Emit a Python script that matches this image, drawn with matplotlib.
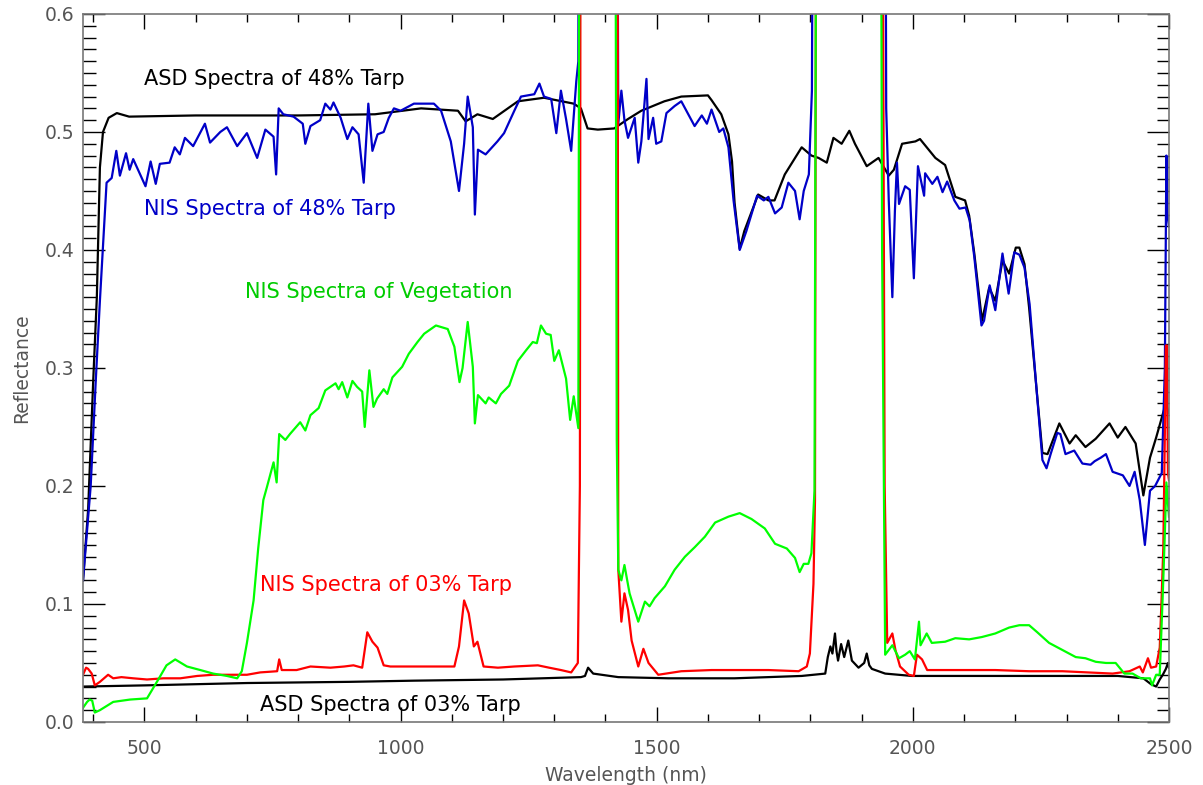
import matplotlib
matplotlib.use("Agg")
import matplotlib.pyplot as plt
import numpy as np
from matplotlib.ticker import MultipleLocator, FormatStrFormatter

# (wavelength nm, reflectance); 1.0 = off-scale water bands
asd_48 = [(380, 0.12), (390, 0.18), (400, 0.29), (407, 0.36), (413, 0.47), (419, 0.50),
          (430, 0.512), (446, 0.516), (470, 0.513), (600, 0.514), (800, 0.514), (950, 0.515),
          (1040, 0.52), (1112, 0.518), (1127, 0.509), (1150, 0.515), (1180, 0.511), (1229, 0.526),
          (1280, 0.529), (1338, 0.524), (1352, 0.520), (1365, 0.503), (1385, 0.502), (1417, 0.503),
          (1444, 0.511), (1470, 0.518), (1515, 0.526), (1548, 0.530), (1600, 0.531), (1607, 0.527),
          (1626, 0.515), (1640, 0.498), (1647, 0.475), (1652, 0.44), (1662, 0.401), (1671, 0.416),
          (1698, 0.447), (1718, 0.442), (1730, 0.442), (1750, 0.464), (1783, 0.487), (1802, 0.48),
          (1816, 0.478), (1832, 0.474), (1845, 0.495), (1861, 0.49), (1876, 0.501), (1887, 0.49),
          (1910, 0.471), (1933, 0.478), (1953, 0.463), (1963, 0.468), (1979, 0.49), (2005, 0.492),
          (2014, 0.494), (2044, 0.478), (2063, 0.472), (2083, 0.445), (2102, 0.442), (2110, 0.429),
          (2120, 0.397), (2135, 0.34), (2149, 0.368), (2161, 0.357), (2175, 0.391), (2188, 0.38),
          (2201, 0.402), (2208, 0.402), (2218, 0.388), (2227, 0.351), (2243, 0.275), (2253, 0.228),
          (2263, 0.227), (2286, 0.253), (2306, 0.236), (2318, 0.243), (2337, 0.233), (2357, 0.24),
          (2384, 0.253), (2400, 0.241), (2415, 0.25), (2435, 0.236), (2450, 0.192), (2463, 0.224),
          (2475, 0.241), (2488, 0.261), (2494, 0.27), (2500, 0.262)]

nis_48 = [(380, 0.12), (395, 0.2), (405, 0.29), (413, 0.357), (426, 0.457), (436, 0.461),
          (445, 0.484), (452, 0.463), (464, 0.482), (471, 0.468), (478, 0.477), (502, 0.454),
          (512, 0.475), (522, 0.456), (530, 0.473), (549, 0.474), (559, 0.487), (569, 0.481),
          (579, 0.495), (595, 0.488), (618, 0.507), (628, 0.491), (648, 0.50), (661, 0.504),
          (681, 0.488), (700, 0.499), (720, 0.478), (736, 0.502), (752, 0.496), (757, 0.464),
          (762, 0.52), (771, 0.515), (791, 0.513), (809, 0.507), (814, 0.49), (824, 0.505),
          (843, 0.51), (853, 0.524), (863, 0.519), (869, 0.525), (883, 0.512), (896, 0.494),
          (906, 0.504), (918, 0.498), (928, 0.457), (937, 0.524), (945, 0.484), (955, 0.498),
          (967, 0.50), (977, 0.512), (987, 0.52), (1000, 0.518), (1026, 0.524), (1065, 0.524),
          (1079, 0.518), (1098, 0.492), (1114, 0.45), (1124, 0.49), (1131, 0.53), (1141, 0.504),
          (1145, 0.43), (1151, 0.485), (1166, 0.481), (1189, 0.492), (1202, 0.499), (1222, 0.518),
          (1235, 0.53), (1261, 0.532), (1271, 0.541), (1280, 0.53), (1294, 0.528), (1304, 0.499),
          (1313, 0.535), (1323, 0.511), (1333, 0.484), (1343, 0.543), (1347, 0.56), (1349, 1.0),
          (1421, 1.0), (1425, 0.507), (1431, 0.535), (1437, 0.51), (1444, 0.495), (1457, 0.512),
          (1464, 0.474), (1470, 0.492), (1480, 0.545), (1484, 0.494), (1493, 0.512), (1499, 0.49),
          (1509, 0.492), (1519, 0.516), (1535, 0.522), (1548, 0.526), (1574, 0.505), (1588, 0.514),
          (1598, 0.507), (1607, 0.519), (1622, 0.50), (1630, 0.503), (1640, 0.487), (1650, 0.442),
          (1662, 0.40), (1675, 0.416), (1696, 0.446), (1709, 0.442), (1718, 0.445), (1731, 0.431),
          (1744, 0.436), (1757, 0.457), (1770, 0.45), (1779, 0.426), (1787, 0.45), (1797, 0.464),
          (1803, 0.535), (1807, 1.0), (1945, 1.0), (1948, 0.52), (1953, 0.442), (1960, 0.36),
          (1965, 0.433), (1969, 0.474), (1973, 0.439), (1985, 0.454), (1994, 0.451), (2002, 0.376),
          (2010, 0.471), (2022, 0.446), (2024, 0.465), (2038, 0.456), (2048, 0.462), (2058, 0.449),
          (2067, 0.458), (2081, 0.442), (2091, 0.435), (2103, 0.436), (2111, 0.425), (2120, 0.394),
          (2134, 0.336), (2139, 0.34), (2150, 0.37), (2161, 0.349), (2175, 0.397), (2187, 0.363),
          (2198, 0.398), (2208, 0.396), (2218, 0.385), (2228, 0.354), (2243, 0.274), (2253, 0.222),
          (2261, 0.215), (2269, 0.227), (2282, 0.245), (2288, 0.244), (2298, 0.227), (2315, 0.23),
          (2331, 0.219), (2347, 0.218), (2355, 0.221), (2367, 0.224), (2377, 0.227), (2390, 0.212),
          (2410, 0.209), (2423, 0.2), (2433, 0.212), (2443, 0.188), (2453, 0.15), (2463, 0.196),
          (2473, 0.2), (2486, 0.211), (2492, 0.30), (2495, 0.48), (2497, 0.43), (2500, 0.42)]

nis_veg = [(380, 0.012), (388, 0.017), (393, 0.019), (398, 0.018), (403, 0.008), (413, 0.01),
           (439, 0.017), (472, 0.019), (505, 0.02), (527, 0.036), (543, 0.048), (560, 0.053),
           (583, 0.047), (609, 0.044), (634, 0.041), (661, 0.039), (681, 0.037), (690, 0.043),
           (700, 0.067), (713, 0.103), (722, 0.147), (732, 0.188), (739, 0.199), (752, 0.22),
           (758, 0.203), (763, 0.244), (775, 0.239), (784, 0.244), (804, 0.254), (814, 0.247),
           (824, 0.26), (840, 0.266), (853, 0.281), (873, 0.287), (879, 0.282), (886, 0.288),
           (896, 0.275), (906, 0.289), (915, 0.284), (925, 0.28), (930, 0.25), (939, 0.298),
           (947, 0.267), (954, 0.274), (967, 0.282), (974, 0.278), (984, 0.292), (1003, 0.301),
           (1016, 0.312), (1033, 0.322), (1046, 0.329), (1069, 0.336), (1092, 0.333), (1105, 0.318),
           (1115, 0.288), (1121, 0.30), (1131, 0.339), (1141, 0.301), (1145, 0.253), (1151, 0.277),
           (1166, 0.27), (1172, 0.275), (1186, 0.27), (1196, 0.278), (1212, 0.285), (1229, 0.306),
           (1245, 0.315), (1258, 0.322), (1266, 0.321), (1274, 0.336), (1284, 0.329), (1293, 0.328),
           (1300, 0.306), (1309, 0.315), (1323, 0.291), (1331, 0.256), (1338, 0.276), (1347, 0.249),
           (1350, 1.0), (1418, 1.0), (1422, 0.239), (1425, 0.129), (1431, 0.12), (1437, 0.133),
           (1447, 0.109), (1464, 0.085), (1477, 0.102), (1486, 0.098), (1496, 0.105), (1516, 0.115),
           (1535, 0.129), (1555, 0.14), (1574, 0.148), (1594, 0.157), (1614, 0.169), (1640, 0.174),
           (1662, 0.177), (1685, 0.172), (1711, 0.164), (1731, 0.151), (1754, 0.147), (1770, 0.139),
           (1779, 0.127), (1787, 0.134), (1796, 0.134), (1802, 0.143), (1808, 0.196), (1813, 1.0),
           (1936, 1.0), (1940, 0.4), (1946, 0.057), (1960, 0.065), (1973, 0.054), (1985, 0.057),
           (1994, 0.06), (2004, 0.053), (2012, 0.085), (2015, 0.065), (2027, 0.075), (2037, 0.067),
           (2063, 0.068), (2083, 0.071), (2110, 0.07), (2135, 0.072), (2161, 0.075), (2188, 0.08),
           (2208, 0.082), (2227, 0.082), (2243, 0.076), (2266, 0.067), (2292, 0.061), (2318, 0.055),
           (2337, 0.054), (2357, 0.051), (2377, 0.05), (2396, 0.05), (2413, 0.041), (2429, 0.041),
           (2445, 0.037), (2463, 0.037), (2467, 0.031), (2475, 0.04), (2482, 0.04), (2488, 0.109),
           (2492, 0.16), (2495, 0.203), (2500, 0.174)]

nis_03 = [(380, 0.04), (386, 0.046), (390, 0.045), (397, 0.041), (403, 0.031), (413, 0.034),
          (429, 0.04), (439, 0.037), (455, 0.038), (478, 0.037), (505, 0.036), (537, 0.037),
          (570, 0.037), (603, 0.039), (634, 0.04), (667, 0.04), (700, 0.04), (726, 0.042),
          (759, 0.043), (763, 0.053), (768, 0.044), (797, 0.044), (824, 0.047), (863, 0.046),
          (890, 0.047), (908, 0.048), (925, 0.046), (935, 0.076), (945, 0.068), (955, 0.063),
          (967, 0.048), (980, 0.047), (1026, 0.047), (1079, 0.047), (1105, 0.047), (1114, 0.064),
          (1124, 0.103), (1133, 0.092), (1143, 0.064), (1150, 0.068), (1162, 0.047), (1190, 0.046),
          (1222, 0.047), (1268, 0.048), (1290, 0.046), (1313, 0.044), (1333, 0.042), (1346, 0.05),
          (1350, 0.2), (1352, 1.0), (1423, 1.0), (1425, 0.129), (1431, 0.085), (1437, 0.109),
          (1444, 0.095), (1451, 0.069), (1464, 0.047), (1474, 0.062), (1484, 0.05), (1503, 0.04),
          (1548, 0.043), (1607, 0.044), (1652, 0.044), (1718, 0.044), (1777, 0.043), (1793, 0.047),
          (1799, 0.058), (1806, 0.117), (1809, 0.188), (1812, 1.0), (1939, 1.0), (1945, 0.2),
          (1950, 0.067), (1960, 0.075), (1966, 0.061), (1975, 0.047), (1992, 0.04), (2002, 0.039),
          (2008, 0.057), (2018, 0.053), (2028, 0.044), (2057, 0.044), (2161, 0.044), (2227, 0.043),
          (2292, 0.043), (2390, 0.041), (2423, 0.043), (2443, 0.047), (2449, 0.042), (2459, 0.054),
          (2465, 0.046), (2475, 0.047), (2482, 0.063), (2486, 0.109), (2489, 0.148), (2492, 0.244),
          (2494, 0.319), (2496, 0.319), (2498, 0.211), (2500, 0.205)]

asd_03 = [(380, 0.030), (500, 0.031), (700, 0.033), (900, 0.034), (1026, 0.035), (1200, 0.036),
          (1352, 0.038), (1360, 0.039), (1366, 0.046), (1376, 0.041), (1425, 0.038), (1523, 0.037),
          (1652, 0.037), (1783, 0.039), (1829, 0.041), (1834, 0.055), (1839, 0.064), (1843, 0.058),
          (1848, 0.075), (1851, 0.06), (1854, 0.052), (1860, 0.066), (1866, 0.055), (1874, 0.069),
          (1881, 0.052), (1894, 0.046), (1905, 0.050), (1910, 0.058), (1915, 0.048), (1920, 0.045),
          (1946, 0.041), (1998, 0.039), (2100, 0.039), (2200, 0.039), (2300, 0.039), (2400, 0.039),
          (2450, 0.037), (2465, 0.032), (2475, 0.030), (2482, 0.036), (2488, 0.040), (2494, 0.045),
          (2498, 0.05), (2500, 0.046)]

labels = ["ASD Spectra of 48% Tarp", "NIS Spectra of 48% Tarp", "NIS Spectra of Vegetation",
          "NIS Spectra of 03% Tarp", "ASD Spectra of 03% Tarp"]

grey = "#555555"

fig = plt.figure(figsize=(12.03, 7.85), dpi=100)
ax = fig.add_axes([0.069, 0.0803, 0.9027, 0.9019])

series = [(asd_48, "black"), (asd_03, "black"), (nis_48, "#0000c8"),
          (nis_03, "#ff0000"), (nis_veg, "#00ff00")]
for data, col in series:
    wl, r = zip(*data)
    ax.plot(wl, r, color=col, lw=1.6)

# curve labels
ax.text(500, 0.545, labels[0], color="black", fontsize=15, va="center")
ax.text(500, 0.435, labels[1], color="#0000c8", fontsize=15, va="center")
ax.text(697, 0.364, labels[2], color="#00cc00", fontsize=15, va="center")
ax.text(726, 0.116, labels[3], color="#ff0000", fontsize=15, va="center")
ax.text(726, 0.014, labels[4], color="black", fontsize=15, va="center")

ax.set_xlim(380, 2500)
ax.set_ylim(0, 0.6)
ax.xaxis.set_major_locator(MultipleLocator(500))
ax.xaxis.set_minor_locator(MultipleLocator(100))
ax.yaxis.set_major_locator(MultipleLocator(0.1))
ax.yaxis.set_minor_locator(MultipleLocator(0.01))
ax.yaxis.set_major_formatter(FormatStrFormatter("%.1f"))

ax.tick_params(which="both", direction="in", top=True, right=True,
               color="black", labelcolor=grey, labelsize=13.5, width=1)
ax.tick_params(axis="x", which="major", length=11, pad=12)
ax.tick_params(axis="x", which="minor", length=6)
ax.tick_params(axis="y", which="major", length=16, pad=6)
ax.tick_params(axis="y", which="minor", length=9)
for s in ax.spines.values():
    s.set_color("#777777")
    s.set_linewidth(1.2)

ax.set_xlabel("Wavelength (nm)", color=grey, fontsize=13.5, labelpad=6)
ax.set_ylabel("Reflectance", color=grey, fontsize=13.5, labelpad=10)

fig.savefig("out.png", dpi=100)
